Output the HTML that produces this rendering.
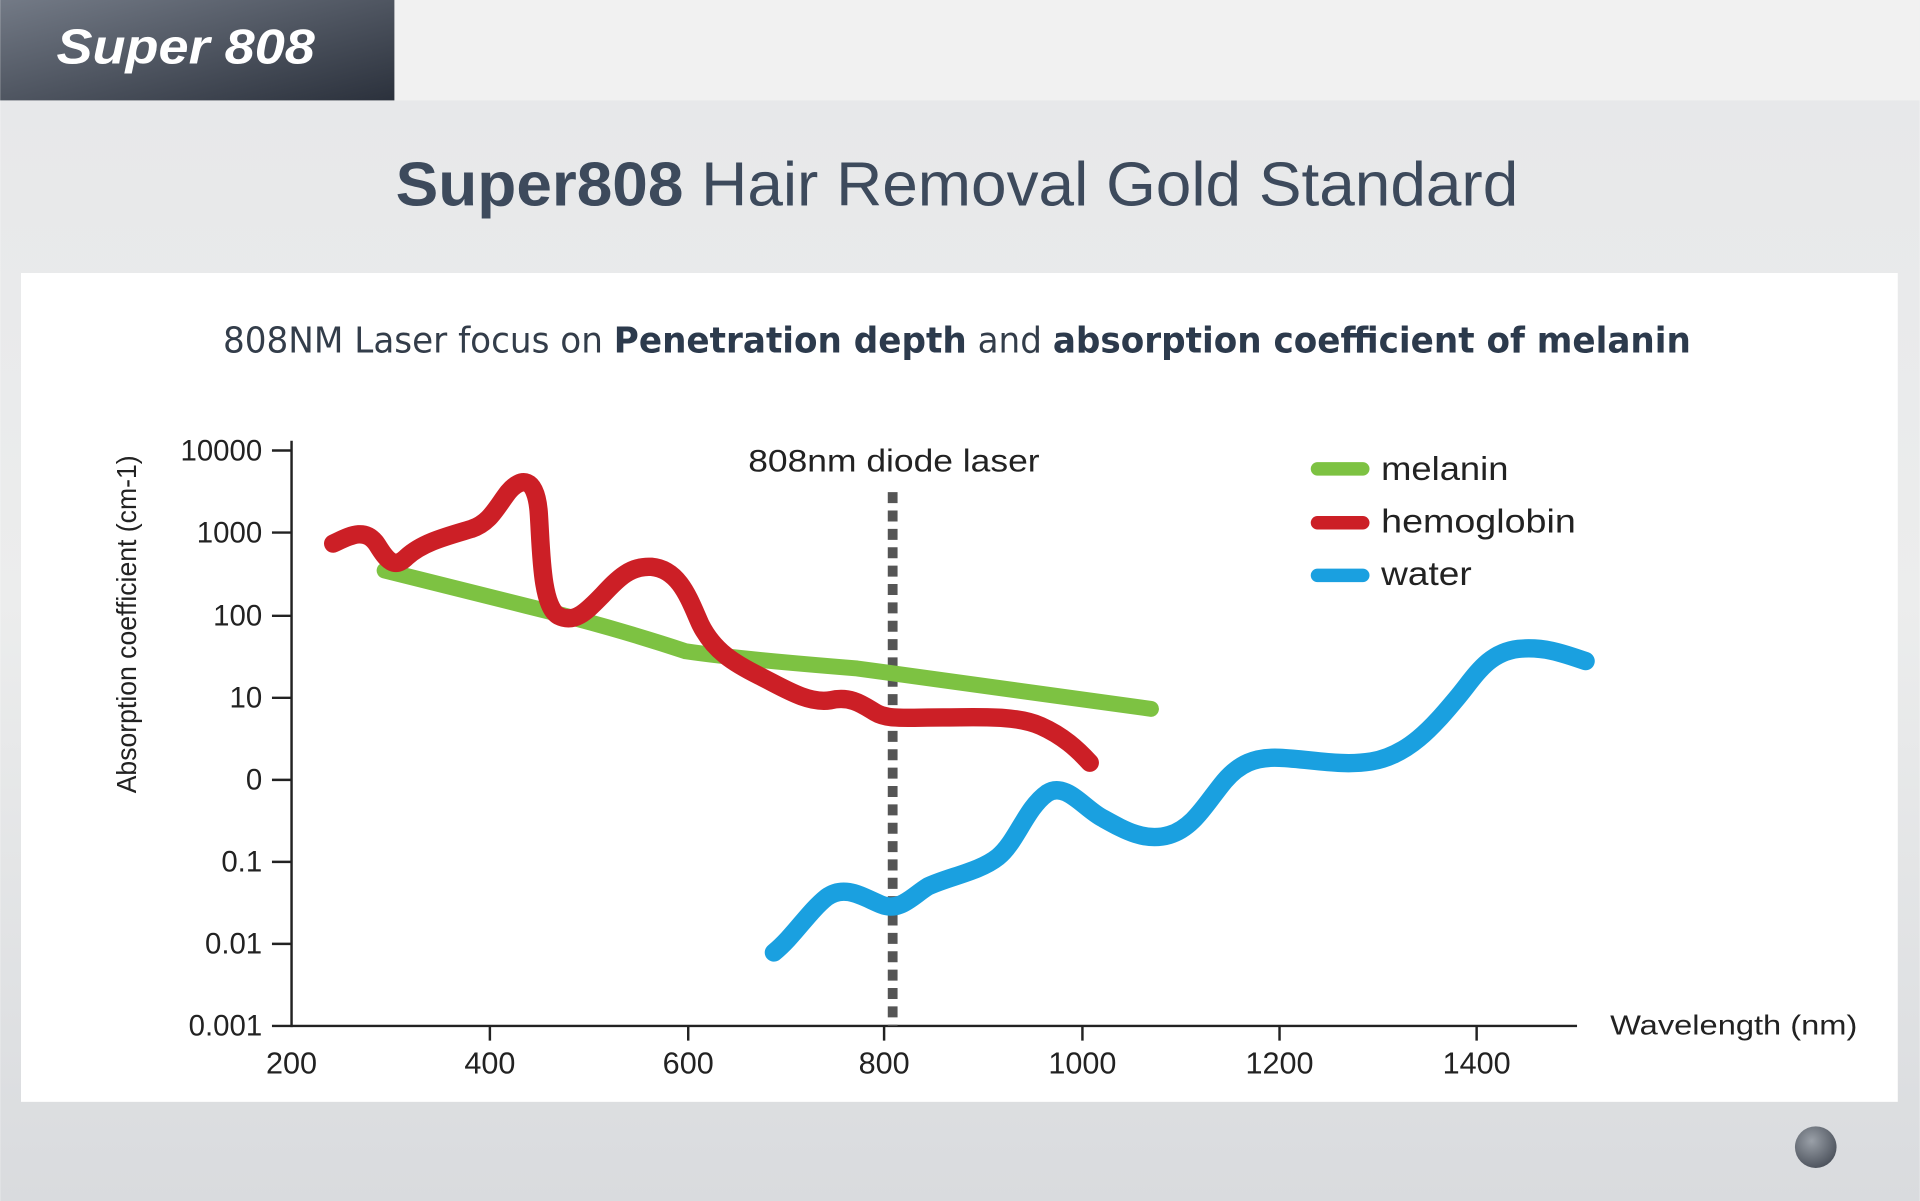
<!DOCTYPE html>
<html><head><meta charset="utf-8"><style>
html,body{margin:0;padding:0;width:1920px;height:1201px;overflow:hidden;}
svg{display:block}
text{font-family:"Liberation Sans",sans-serif}
</style></head><body>
<svg width="1920" height="1201" viewBox="0 0 1568 981" xmlns="http://www.w3.org/2000/svg">
<defs>
<linearGradient id="bg" x1="0" y1="0" x2="0" y2="1">
<stop offset="0" stop-color="#e6e7e9"/><stop offset="0.5" stop-color="#eceded"/><stop offset="1" stop-color="#d9dbde"/>
</linearGradient>
<linearGradient id="hd" x1="0" y1="0" x2="1" y2="1">
<stop offset="0" stop-color="#737a86"/><stop offset="1" stop-color="#2b313c"/>
</linearGradient>
<radialGradient id="dot" cx="0.4" cy="0.35" r="0.7">
<stop offset="0" stop-color="#9aa0a8"/><stop offset="1" stop-color="#4a505a"/>
</radialGradient>
</defs>
<rect width="1568" height="981" fill="url(#bg)"/>
<rect width="1568" height="82" fill="#f1f1f1"/>
<rect width="322" height="82" fill="url(#hd)"/>
<text x="46" y="52" font-size="40" font-weight="bold" font-style="italic" fill="#fff" textLength="211" lengthAdjust="spacingAndGlyphs">Super 808</text>
<text x="323" y="168" font-size="51" fill="#3d4a5c" textLength="917" lengthAdjust="spacingAndGlyphs"><tspan font-weight="bold">Super808</tspan> Hair Removal Gold Standard</text>
<rect x="17" y="223" width="1533" height="677" fill="#fff"/>
<text x="182" y="288" font-size="29" fill="#333d4a" style="font-family:'DejaVu Sans',sans-serif" textLength="1199" lengthAdjust="spacingAndGlyphs">808NM Laser focus on <tspan font-weight="bold" fill="#2c3a4c">Penetration depth</tspan> and <tspan font-weight="bold" fill="#2c3a4c">absorption coefficient of melanin</tspan></text>
<g stroke="#222" stroke-width="2" fill="none">
<line x1="238" y1="360" x2="238" y2="839"/>
<line x1="238" y1="838" x2="1288" y2="838"/>
<line x1="222" y1="368" x2="238" y2="368"/><line x1="222" y1="435" x2="238" y2="435"/>
<line x1="222" y1="503" x2="238" y2="503"/><line x1="222" y1="570" x2="238" y2="570"/>
<line x1="222" y1="637" x2="238" y2="637"/><line x1="222" y1="704" x2="238" y2="704"/>
<line x1="222" y1="771" x2="238" y2="771"/><line x1="222" y1="838" x2="238" y2="838"/>
<line x1="400" y1="838" x2="400" y2="850"/><line x1="562" y1="838" x2="562" y2="850"/>
<line x1="722" y1="838" x2="722" y2="850"/><line x1="884" y1="838" x2="884" y2="850"/>
<line x1="1045" y1="838" x2="1045" y2="850"/><line x1="1206" y1="838" x2="1206" y2="850"/>
</g>
<g font-size="24" fill="#222" text-anchor="end">
<text x="214" y="376">10000</text><text x="214" y="443">1000</text><text x="214" y="511">100</text>
<text x="214" y="578">10</text><text x="214" y="645">0</text><text x="214" y="712">0.1</text>
<text x="214" y="779">0.01</text><text x="214" y="846">0.001</text>
</g>
<g font-size="25" fill="#222" text-anchor="middle">
<text x="238" y="877">200</text><text x="400" y="877">400</text><text x="562" y="877">600</text>
<text x="722" y="877">800</text><text x="884" y="877">1000</text><text x="1045" y="877">1200</text><text x="1206" y="877">1400</text>
</g>
<text x="1315" y="845" font-size="23" fill="#222" textLength="202" lengthAdjust="spacingAndGlyphs">Wavelength (nm)</text>
<text transform="translate(111,510) rotate(-90)" font-size="23" fill="#222" text-anchor="middle" textLength="276" lengthAdjust="spacingAndGlyphs">Absorption coefficient (cm-1)</text>
<line x1="729" y1="402" x2="729" y2="838" stroke="#555" stroke-width="8" stroke-dasharray="9 6"/>
<text x="611" y="385" font-size="26" fill="#222" textLength="238" lengthAdjust="spacingAndGlyphs">808nm diode laser</text>
<g stroke-linecap="round" stroke-linejoin="round" fill="none" stroke-width="15">
<path d="M314,466 L430,495 Q500,512 560,532 Q600,538 700,546 L940,579" stroke="#7dc242" stroke-width="13"/>
<path stroke="#cc1f26" d="M272,444 C285,438 298,430 308,445 C316,458 322,465 332,455 C345,443 365,438 385,432 C400,427 405,415 415,402 C425,390 438,388 440,420 C442,450 442,495 456,503 C470,510 480,498 492,486 C505,472 515,462 532,463 C555,465 563,490 572,510 C583,532 600,542 620,552 C640,562 660,575 678,572 C695,568 705,576 715,582 C725,588 740,586 770,586 C800,586 830,584 850,593 C868,601 880,612 890,623"/>
<path stroke="#1aa0e0" d="M632,778 C648,765 660,745 675,733 C690,722 705,733 720,739 C735,745 745,732 758,724 C775,716 800,712 815,700 C830,688 838,660 855,648 C870,638 885,660 900,668 C918,678 935,688 955,682 C975,676 985,656 1000,638 C1012,624 1025,618 1045,619 C1070,620 1095,626 1120,622 C1150,617 1170,594 1190,570 C1205,552 1215,533 1240,530 C1260,528 1275,533 1295,540"/>
</g>
<g stroke-linecap="round" stroke-width="11">
<line x1="1076" y1="383" x2="1113" y2="383" stroke="#7dc242"/>
<line x1="1076" y1="427" x2="1113" y2="427" stroke="#cc1f26"/>
<line x1="1076" y1="470" x2="1113" y2="470" stroke="#1aa0e0"/>
</g>
<g font-size="27" fill="#222">
<text x="1128" y="392" textLength="104" lengthAdjust="spacingAndGlyphs">melanin</text>
<text x="1128" y="435" textLength="159" lengthAdjust="spacingAndGlyphs">hemoglobin</text>
<text x="1128" y="478" textLength="74" lengthAdjust="spacingAndGlyphs">water</text>
</g>
<circle cx="1483" cy="937" r="17" fill="url(#dot)"/>
</svg>
</body></html>
